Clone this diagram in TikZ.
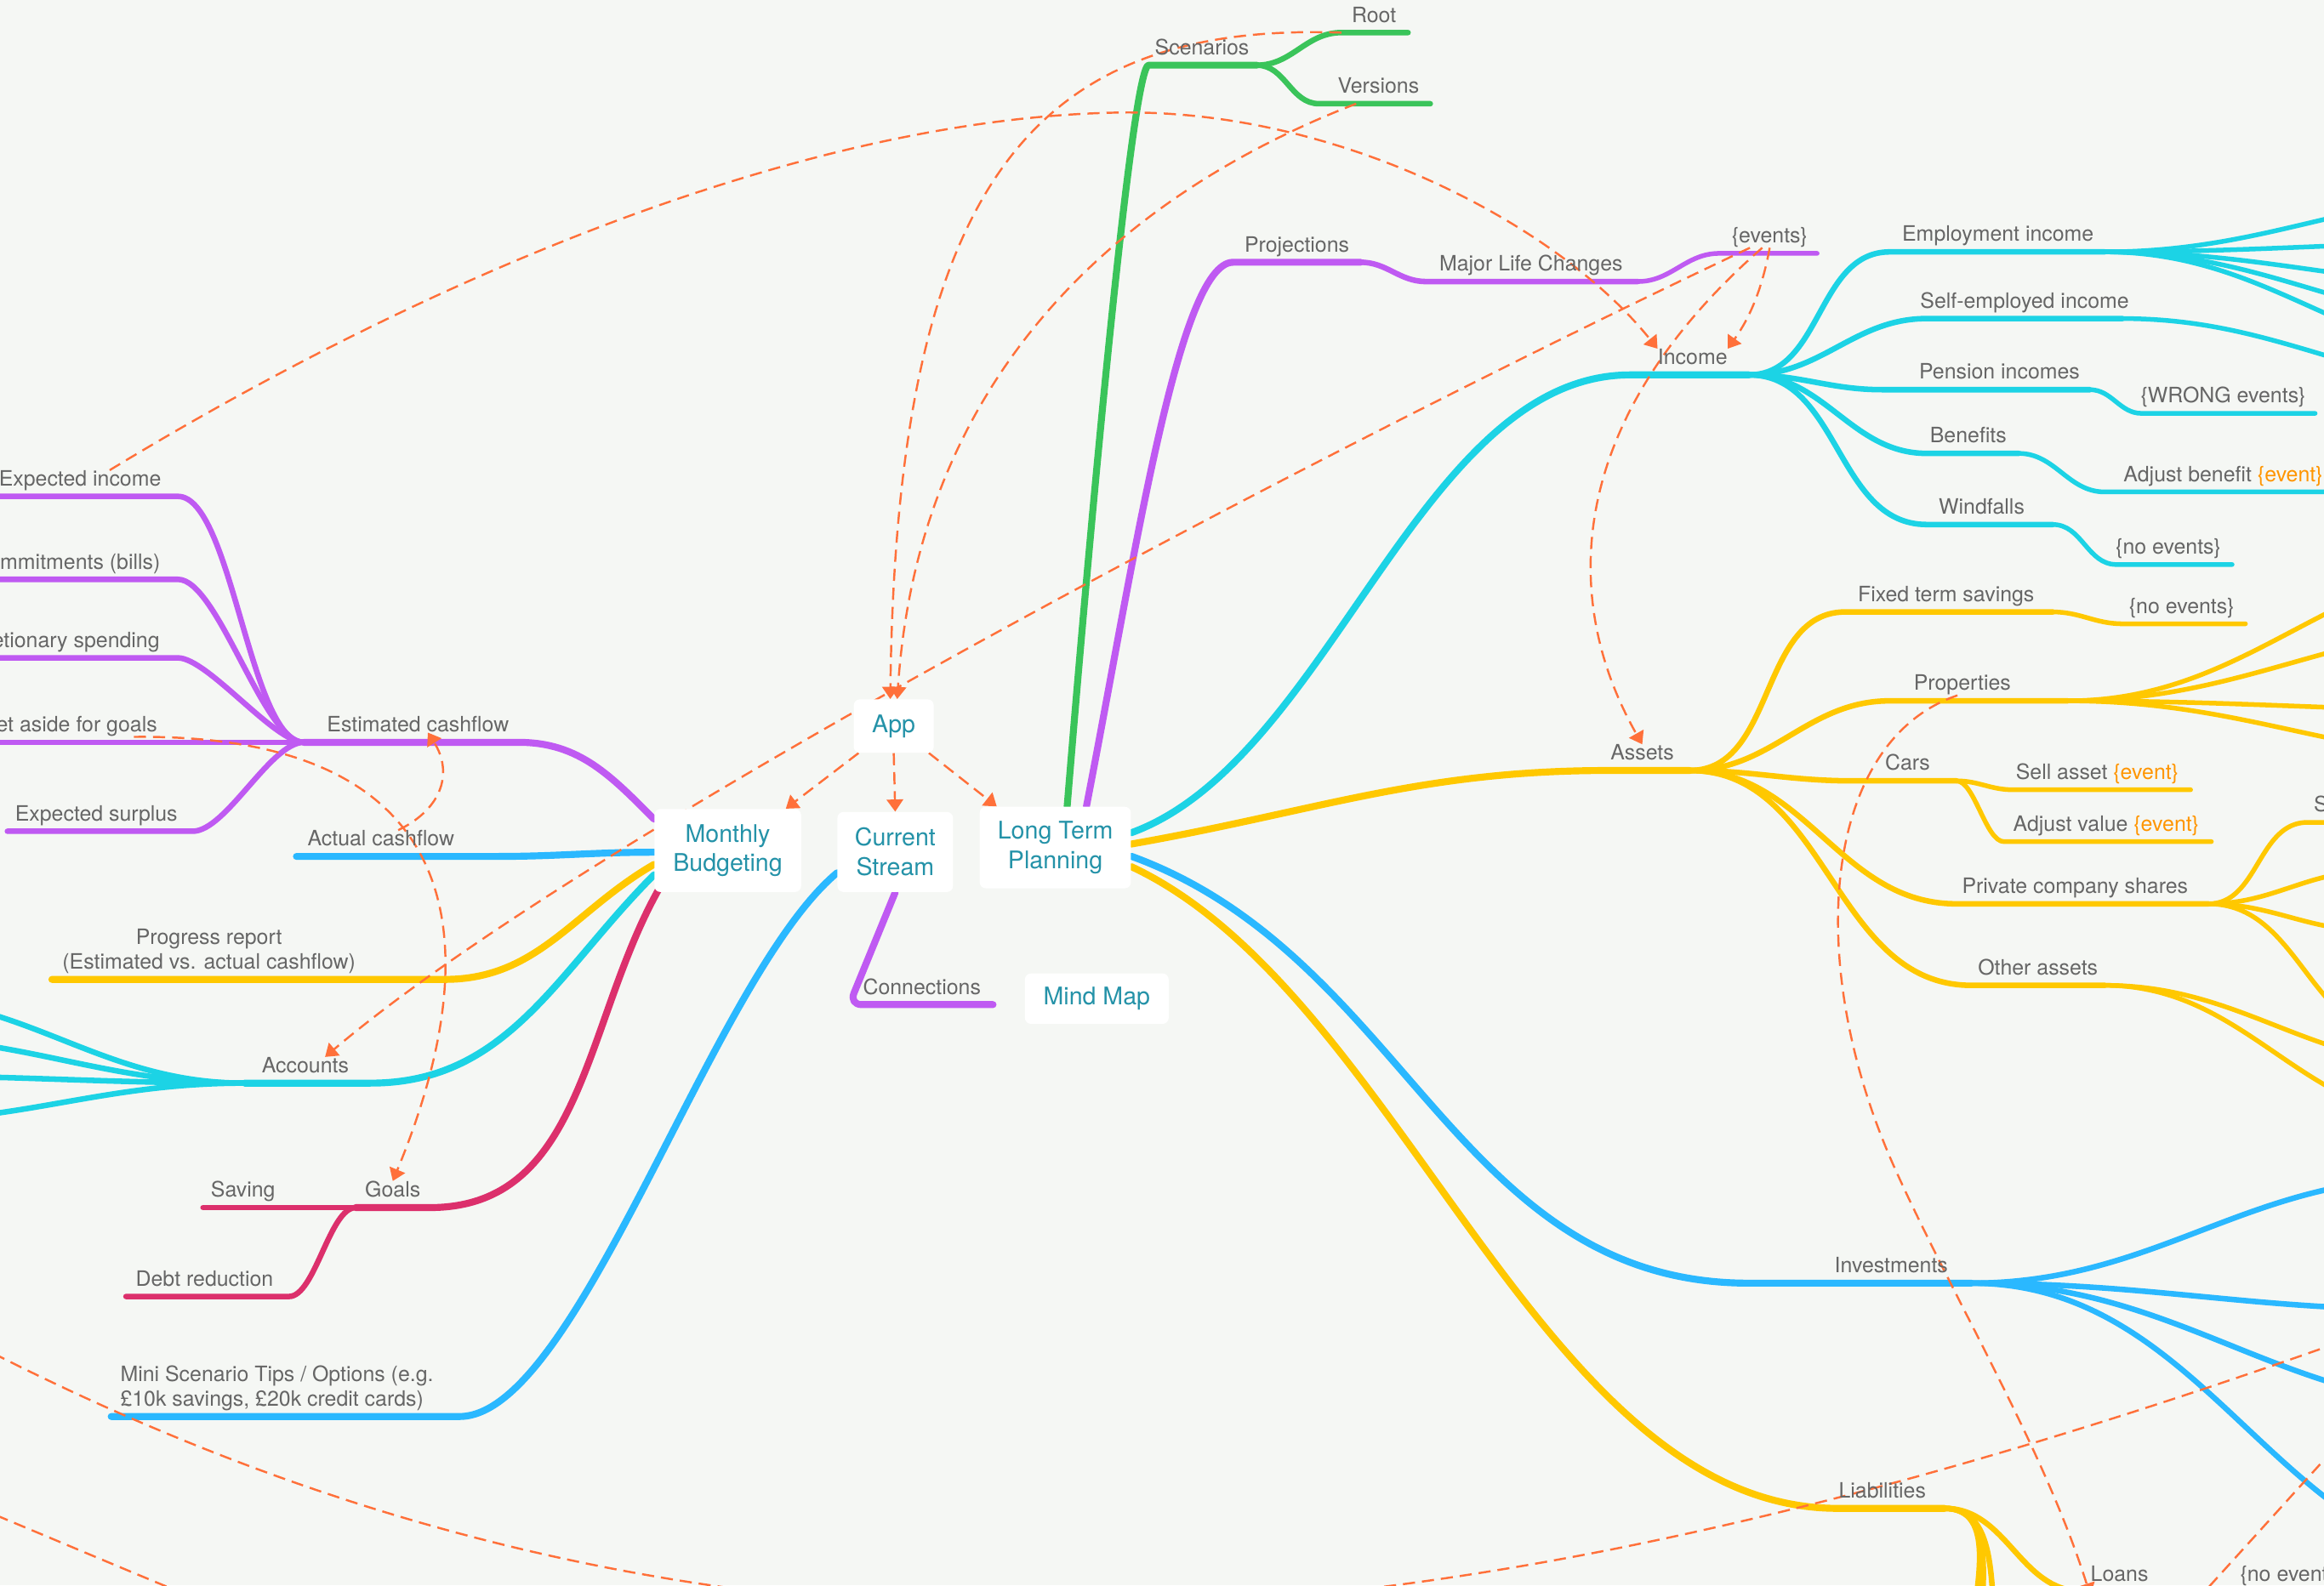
\documentclass[tikz,border=0pt]{standalone}
\usepackage{fontspec}
\setmainfont{TeX Gyre Heros}
\usetikzlibrary{arrows.meta,positioning,backgrounds}

\definecolor{paper}{RGB}{245,247,244}
\definecolor{mmgreen}{RGB}{58,196,90}
\definecolor{mmpurple}{RGB}{191,90,242}
\definecolor{mmcyan}{RGB}{28,211,229}
\definecolor{mmyellow}{RGB}{255,200,0}
\definecolor{mmblue}{RGB}{42,184,255}
\definecolor{mmred}{RGB}{220,48,108}
\definecolor{linkorange}{RGB}{255,112,58}
\definecolor{labelgray}{RGB}{102,102,102}
\definecolor{hubteal}{RGB}{36,146,168}
\definecolor{eventorange}{RGB}{255,149,0}

\newcommand{\evtag}{\textcolor{eventorange}{\{event\}}}

\begin{document}
\begin{tikzpicture}[
    x=0.03cm, y=-0.03cm,
    hub/.style={rectangle, rounded corners=3.5pt, fill=white, text=hubteal, align=center, inner sep=0pt, font=\fontsize{14}{17}\selectfont},
    topic/.style={anchor=base, yshift=6pt, inner sep=0pt, text=labelgray, font=\fontsize{12.2}{14.5}\selectfont},
    topic2/.style={anchor=south, yshift=3pt, inner sep=0pt, text=labelgray, align=center, font=\fontsize{12.2}{14.5}\selectfont},
    stem/.style={line width=4pt, line cap=round, line join=round},
    twig/.style={line width=3.2pt, line cap=round, line join=round},
    leaf/.style={line width=2.7pt, line cap=round, line join=round},
    rbranch/.style={out=0, in=180},
    lbranch/.style={out=180, in=0},
    link/.style={draw=linkorange, line width=1.2pt, dash pattern=on 7pt off 4pt},
    linkarrow/.style={link, -{Triangle[length=7pt, width=9.5pt]}}
]

\useasboundingbox (0,0) rectangle (1568,1070);

% Hubs
\node[hub, minimum width=1.62cm, minimum height=1.08cm] (app) at (603,490) {App};
\node[hub, minimum width=2.97cm, minimum height=1.68cm] (mb) at (491,574) {Monthly\\Budgeting};
\node[hub, minimum width=2.34cm, minimum height=1.62cm] (cs) at (604,575) {Current\\Stream};
\node[hub, minimum width=3.06cm, minimum height=1.65cm] (ltp) at (712,572) {Long Term\\Planning};
\node[hub, minimum width=2.91cm, minimum height=1.02cm] (mm) at (740,674) {Mind Map};

% Scenarios
\coordinate (scen-l) at (775,44);   \coordinate (scen-r) at (848,44);
\coordinate (root-l) at (905,22);   \coordinate (root-r) at (950,22);
\coordinate (vers-l) at (890,70);   \coordinate (vers-r) at (965,70);
\node[topic] (scen) at (811,44) {Scenarios};
\node[topic] (root) at (927,22) {Root};
\node[topic] (vers) at (930,70) {Versions};

% Projections
\coordinate (proj-l) at (832,177);    \coordinate (proj-r) at (918,177);
\coordinate (mlc-l) at (962,190);     \coordinate (mlc-r) at (1105,190);
\coordinate (events-l) at (1160,171); \coordinate (events-r) at (1226,171);
\node[topic] (proj) at (875,177) {Projections};
\node[topic] (mlc) at (1033,190) {Major Life Changes};
\node[topic] (events) at (1194,171) {\{events\}};

% Income
\coordinate (inc-l) at (1100,253);      \coordinate (inc-r) at (1180,253);
\coordinate (emp-l) at (1275,170);      \coordinate (emp-r) at (1420,170);
\coordinate (selfemp-l) at (1300,215);  \coordinate (selfemp-r) at (1432,215);
\coordinate (pen-l) at (1270,263);      \coordinate (pen-r) at (1410,263);
\coordinate (wrong-l) at (1445,279);    \coordinate (wrong-r) at (1562,279);
\coordinate (ben-l) at (1300,306);      \coordinate (ben-r) at (1362,306);
\coordinate (adjben-l) at (1420,332);   \coordinate (adjben-r) at (1600,332);
\coordinate (wind-l) at (1300,354);     \coordinate (wind-r) at (1385,354);
\coordinate (noevwind-l) at (1428,381); \coordinate (noevwind-r) at (1506,381);
\coordinate (empA) at (1700,130); \coordinate (empB) at (1700,163);
\coordinate (empC) at (1700,194); \coordinate (empD) at (1700,220);
\coordinate (empE) at (1700,245); \coordinate (selfA) at (1700,263);
\node[topic] (inc) at (1142,253) {Income};
\node[topic] (emp) at (1348,170) {Employment income};
\node[topic] (selfemp) at (1366,215) {Self-employed income};
\node[topic] (pen) at (1349,263) {Pension incomes};
\node[topic] (wrong) at (1500,279) {\{WRONG events\}};
\node[topic] (ben) at (1328,306) {Benefits};
\node[topic] (adjben) at (1500,332) {Adjust benefit \evtag};
\node[topic] (wind) at (1337,354) {Windfalls};
\node[topic] (noevwind) at (1463,381) {\{no events\}};

% Assets
\coordinate (assets-l) at (1085,520);  \coordinate (assets-r) at (1140,520);
\coordinate (fixed-l) at (1245,413);   \coordinate (fixed-r) at (1385,413);
\coordinate (noevfix-l) at (1432,421); \coordinate (noevfix-r) at (1515,421);
\coordinate (prop-l) at (1275,473);    \coordinate (prop-r) at (1395,473);
\coordinate (cars-l) at (1250,527);    \coordinate (cars-r) at (1320,527);
\coordinate (sell-l) at (1358,533);    \coordinate (sell-r) at (1478,533);
\coordinate (adjval-l) at (1352,568);  \coordinate (adjval-r) at (1492,568);
\coordinate (pcs-l) at (1320,610);     \coordinate (pcs-r) at (1490,610);
\coordinate (pcsS-l) at (1557,555);    \coordinate (pcsS-r) at (1600,555);
\coordinate (other-l) at (1330,665);   \coordinate (other-r) at (1420,665);
\coordinate (propA) at (1700,378); \coordinate (propB) at (1700,421);
\coordinate (propC) at (1700,480); \coordinate (propD) at (1700,513);
\coordinate (pcsB) at (1600,588);  \coordinate (pcsC) at (1600,628);
\coordinate (pcsD) at (1620,700);
\coordinate (otherA) at (1650,719); \coordinate (otherB) at (1650,756);
\node[topic] (assets) at (1108,520) {Assets};
\node[topic] (fixed) at (1313,413) {Fixed term savings};
\node[topic] (noevfix) at (1472,421) {\{no events\}};
\node[topic] (prop) at (1324,473) {Properties};
\node[topic] (cars) at (1287,527) {Cars};
\node[topic] (sell) at (1415,533) {Sell asset \evtag};
\node[topic] (adjval) at (1421,568) {Adjust value \evtag};
\node[topic] (pcs) at (1400,610) {Private company shares};
\node[topic] (pcsS) at (1566,555) {S};
\node[topic] (other) at (1375,665) {Other assets};

% Investments and Liabilities
\coordinate (inv-l) at (1180,866);  \coordinate (inv-r) at (1330,866);
\coordinate (liab-l) at (1240,1018); \coordinate (liab-r) at (1312,1018);
\coordinate (loans-l) at (1405,1074); \coordinate (loans-r) at (1460,1074);
\coordinate (noevloan-l) at (1505,1074); \coordinate (noevloan-r) at (1600,1074);
\coordinate (invA) at (1640,795); \coordinate (invB) at (1640,884);
\coordinate (invC) at (1680,950); \coordinate (invD) at (1700,1060);
\coordinate (liabA) at (1350,1170); \coordinate (liabB) at (1362,1160);
\coordinate (liabC) at (1378,1150);
\node[topic] (inv) at (1276,866) {Investments};
\node[topic] (liab) at (1270,1018) {Liabilities};
\node[topic] (loans) at (1430,1074) {Loans};
\node[topic] (noevloan) at (1547,1074) {\{no events\}};

% Monthly Budgeting topics
\coordinate (estc-l) at (205,501);     \coordinate (estc-r) at (350,501);
\coordinate (expinc-l) at (-30,335);   \coordinate (expinc-r) at (120,335);
\coordinate (commit-l) at (-30,391);   \coordinate (commit-r) at (120,391);
\coordinate (discr-l) at (-30,444);    \coordinate (discr-r) at (120,444);
\coordinate (setaside-l) at (-30,501);
\coordinate (surplus-l) at (5,561);    \coordinate (surplus-r) at (130,561);
\coordinate (actual-l) at (200,578);   \coordinate (actual-r) at (335,578);
\coordinate (progress-l) at (35,661);  \coordinate (progress-r) at (300,661);
\coordinate (acc-l) at (165,731);      \coordinate (acc-r) at (250,731);
\coordinate (goals-l) at (240,815);    \coordinate (goals-r) at (290,815);
\coordinate (saving-l) at (137,815);
\coordinate (debt-l) at (85,875);      \coordinate (debt-r) at (195,875);
\coordinate (accA) at (-80,673); \coordinate (accB) at (-80,700);
\coordinate (accC) at (-80,726); \coordinate (accD) at (-80,757);
\node[topic] (estc) at (282,501) {Estimated cashflow};
\node[topic] (expinc) at (54,335) {Expected income};
\node[topic] (commit) at (45,391) {Commitments (bills)};
\node[topic] (discr) at (35,444) {Discretionary spending};
\node[topic] (setaside) at (47,501) {Set aside for goals};
\node[topic] (surplus) at (65,561) {Expected surplus};
\node[topic] (actual) at (257,578) {Actual cashflow};
\node[topic2] (progress) at (141,661) {Progress report\\(Estimated vs. actual cashflow)};
\node[topic] (accounts) at (206,731) {Accounts};
\node[topic] (goals) at (265,815) {Goals};
\node[topic] (saving) at (164,815) {Saving};
\node[topic] (debt) at (138,875) {Debt reduction};

% Current Stream topics
\coordinate (mini-l) at (75,956);   \coordinate (mini-r) at (310,956);
\coordinate (conn-l) at (573,678);  \coordinate (conn-r) at (670,678);
\node[topic2, align=left, anchor=south west] (mini) at (81,956) {Mini Scenario Tips / Options (e.g.\\£10k savings, £20k credit cards)};
\node[topic] (conn) at (622,678) {Connections};

% Loose ends of links
\coordinate (farE) at (1650,880);    \coordinate (farW) at (-40,895);
\coordinate (cornerNE) at (1600,950); \coordinate (cornerS) at (1464,1100);
\coordinate (lowW) at (-50,1003);    \coordinate (lowS) at (200,1106);

\begin{scope}[on background layer]
\fill[paper] (0,0) rectangle (1568,1070);

% Long Term Planning branches
\draw[stem, mmgreen] ([xshift=0.24cm]ltp.north) .. controls (740,300) and (765,44) .. (scen-l) -- (scen-r);
\draw[twig, mmgreen] (scen-r) to[rbranch] (root-l) -- (root-r);
\draw[twig, mmgreen] (scen-r) to[rbranch] (vers-l) -- (vers-r);

\draw[stem, mmpurple] ([xshift=0.63cm]ltp.north) .. controls (765,380) and (795,177) .. (proj-l) -- (proj-r);
\draw[twig, mmpurple] (proj-r) to[rbranch] (mlc-l) -- (mlc-r);
\draw[leaf, mmpurple] (mlc-r) to[rbranch] (events-l) -- (events-r);

\draw[stem, mmcyan] ([yshift=8.5pt]ltp.east) to[out=20, in=180, looseness=0.8] (inc-l) -- (inc-r);
\draw[twig, mmcyan] (inc-r) to[rbranch] (emp-l) -- (emp-r);
\draw[twig, mmcyan] (inc-r) to[rbranch] (selfemp-l) -- (selfemp-r);
\draw[twig, mmcyan] (inc-r) to[rbranch] (pen-l) -- (pen-r);
\draw[twig, mmcyan] (inc-r) to[rbranch] (ben-l) -- (ben-r);
\draw[twig, mmcyan] (inc-r) to[rbranch] (wind-l) -- (wind-r);
\draw[leaf, mmcyan] (emp-r) to[rbranch] (empA);
\draw[leaf, mmcyan] (emp-r) to[rbranch] (empB);
\draw[leaf, mmcyan] (emp-r) to[rbranch] (empC);
\draw[leaf, mmcyan] (emp-r) to[rbranch] (empD);
\draw[leaf, mmcyan] (emp-r) to[rbranch] (empE);
\draw[leaf, mmcyan] (selfemp-r) to[rbranch] (selfA);
\draw[leaf, mmcyan] (pen-r) to[rbranch] (wrong-l) -- (wrong-r);
\draw[leaf, mmcyan] (ben-r) to[rbranch] (adjben-l) -- (adjben-r);
\draw[leaf, mmcyan] (wind-r) to[rbranch] (noevwind-l) -- (noevwind-r);

\draw[stem, mmyellow] ([yshift=2pt]ltp.east) to[out=10, in=180] (assets-l) -- (assets-r);
\draw[twig, mmyellow] (assets-r) to[rbranch] (fixed-l) -- (fixed-r);
\draw[twig, mmyellow] (assets-r) to[rbranch] (prop-l) -- (prop-r);
\draw[twig, mmyellow] (assets-r) to[rbranch] (cars-l) -- (cars-r);
\draw[twig, mmyellow] (assets-r) to[rbranch] (pcs-l) -- (pcs-r);
\draw[twig, mmyellow] (assets-r) to[rbranch] (other-l) -- (other-r);
\draw[leaf, mmyellow] (fixed-r) to[rbranch] (noevfix-l) -- (noevfix-r);
\draw[leaf, mmyellow] (prop-r) to[rbranch] (propA);
\draw[leaf, mmyellow] (prop-r) to[rbranch] (propB);
\draw[leaf, mmyellow] (prop-r) to[rbranch] (propC);
\draw[leaf, mmyellow] (prop-r) to[rbranch] (propD);
\draw[leaf, mmyellow] (cars-r) to[rbranch] (sell-l) -- (sell-r);
\draw[leaf, mmyellow] (cars-r) to[rbranch, looseness=0.6] (adjval-l) -- (adjval-r);
\draw[leaf, mmyellow] (pcs-r) to[rbranch] (pcsS-l) -- (pcsS-r);
\draw[leaf, mmyellow] (pcs-r) to[rbranch] (pcsB);
\draw[leaf, mmyellow] (pcs-r) to[rbranch] (pcsC);
\draw[leaf, mmyellow] (pcs-r) to[rbranch] (pcsD);
\draw[leaf, mmyellow] (other-r) to[rbranch] (otherA);
\draw[leaf, mmyellow] (other-r) to[rbranch] (otherB);

\draw[stem, mmblue] ([yshift=-5pt]ltp.east) to[out=-20, in=180] (inv-l) -- (inv-r);
\draw[twig, mmblue] (inv-r) to[rbranch] (invA);
\draw[twig, mmblue] (inv-r) to[rbranch] (invB);
\draw[twig, mmblue] (inv-r) to[rbranch] (invC);
\draw[twig, mmblue] (inv-r) to[rbranch] (invD);

\draw[stem, mmyellow] ([yshift=-11pt]ltp.east) to[out=-25, in=180, looseness=0.8] (liab-l) -- (liab-r);
\draw[twig, mmyellow] (liab-r) to[rbranch] (liabA);
\draw[twig, mmyellow] (liab-r) to[rbranch] (liabB);
\draw[twig, mmyellow] (liab-r) to[rbranch] (liabC);
\draw[twig, mmyellow] (liab-r) to[rbranch] (loans-l) -- (loans-r);
\draw[leaf, mmyellow] (loans-r) -- (noevloan-l) -- (noevloan-r);

% Monthly Budgeting branches
\draw[stem, mmpurple] ([yshift=-6pt]mb.north west) to[out=135, in=0] (estc-r) -- (estc-l);
\draw[twig, mmpurple] (estc-l) to[lbranch, looseness=0.5] (expinc-r) -- (expinc-l);
\draw[twig, mmpurple] (estc-l) to[lbranch, looseness=0.5] (commit-r) -- (commit-l);
\draw[twig, mmpurple] (estc-l) to[lbranch, looseness=0.5] (discr-r) -- (discr-l);
\draw[twig, mmpurple] (estc-l) -- (setaside-l);
\draw[twig, mmpurple] (estc-l) to[lbranch, looseness=0.6] (surplus-r) -- (surplus-l);

\draw[stem, mmblue] ([yshift=-1pt]mb.west) to[lbranch] (actual-r) -- (actual-l);
\draw[stem, mmyellow] ([yshift=-8pt]mb.west) to[out=210, in=0] (progress-r) -- (progress-l);
\draw[stem, mmcyan] ([yshift=-14pt]mb.west) to[out=225, in=0] (acc-r) -- (acc-l);
\draw[twig, mmcyan] (acc-l) to[lbranch] (accA);
\draw[twig, mmcyan] (acc-l) to[lbranch] (accB);
\draw[twig, mmcyan] (acc-l) to[lbranch] (accC);
\draw[twig, mmcyan] (acc-l) to[lbranch] (accD);

\draw[stem, mmred] ([xshift=4pt, yshift=4pt]mb.south west) to[out=240, in=0] (goals-r) -- (goals-l);
\draw[twig, mmred] (goals-l) -- (saving-l);
\draw[twig, mmred] (goals-l) to[lbranch, looseness=0.6] (debt-r) -- (debt-l);

% Current Stream branches
\draw[stem, mmblue] ([yshift=-12pt]cs.west) .. controls (480,660) and (390,956) .. (mini-r) -- (mini-l);
\draw[stem, mmpurple, rounded corners=7pt] (cs.south) -- (conn-l) -- (conn-r);

% Links
\draw[linkarrow] ([xshift=3pt]app.south west) -- ([xshift=-9pt]mb.north east);
\draw[linkarrow] (app.south) -- (cs.north);
\draw[linkarrow] ([xshift=-3pt]app.south east) -- ([xshift=10pt]ltp.north west);
\draw[linkarrow] (root-l) .. controls (700,15) and (605,120) .. ([xshift=-2pt]app.north);
\draw[linkarrow] ([xshift=0.75cm]vers-l) .. controls (760,130) and (620,250) .. ([xshift=2pt]app.north);
\draw[linkarrow] ([xshift=0.6cm]expinc.north) .. controls (300,180) and (550,80) .. (753,76) .. controls (900,73) and (1050,150) .. (inc.north west);
\draw[linkarrow] (events.south) .. controls (1188,200) and (1178,218) .. (inc.north east);
\draw[linkarrow] ([xshift=-0.4cm]events.south) .. controls (900,300) and (400,560) .. ([xshift=0.4cm]accounts.north);
\draw[linkarrow] ([xshift=-0.15cm]events.south) .. controls (1060,280) and (1050,400) .. (assets.north);
\draw[linkarrow] ([xshift=1.3cm]setaside.south) .. controls (320,495) and (330,640) .. (goals.north);
\draw[linkarrow] ([xshift=0.35cm]actual.north) .. controls (300,545) and (305,520) .. ([xshift=0.2cm]estc.south);
\draw[linkarrow] ([xshift=-0.1cm]prop.south) .. controls (1230,500) and (1215,650) .. (1280,792) .. controls (1320,880) and (1380,980) .. ([yshift=-8pt]loans.south west);
\draw[linkarrow] (farE) .. controls (1000,1120) and (500,1180) .. (farW);
\draw[link] (cornerNE) -- (cornerS);
\draw[link] (lowW) .. controls (40,1040) and (120,1075) .. (lowS);
\end{scope}

\end{tikzpicture}
\end{document}
